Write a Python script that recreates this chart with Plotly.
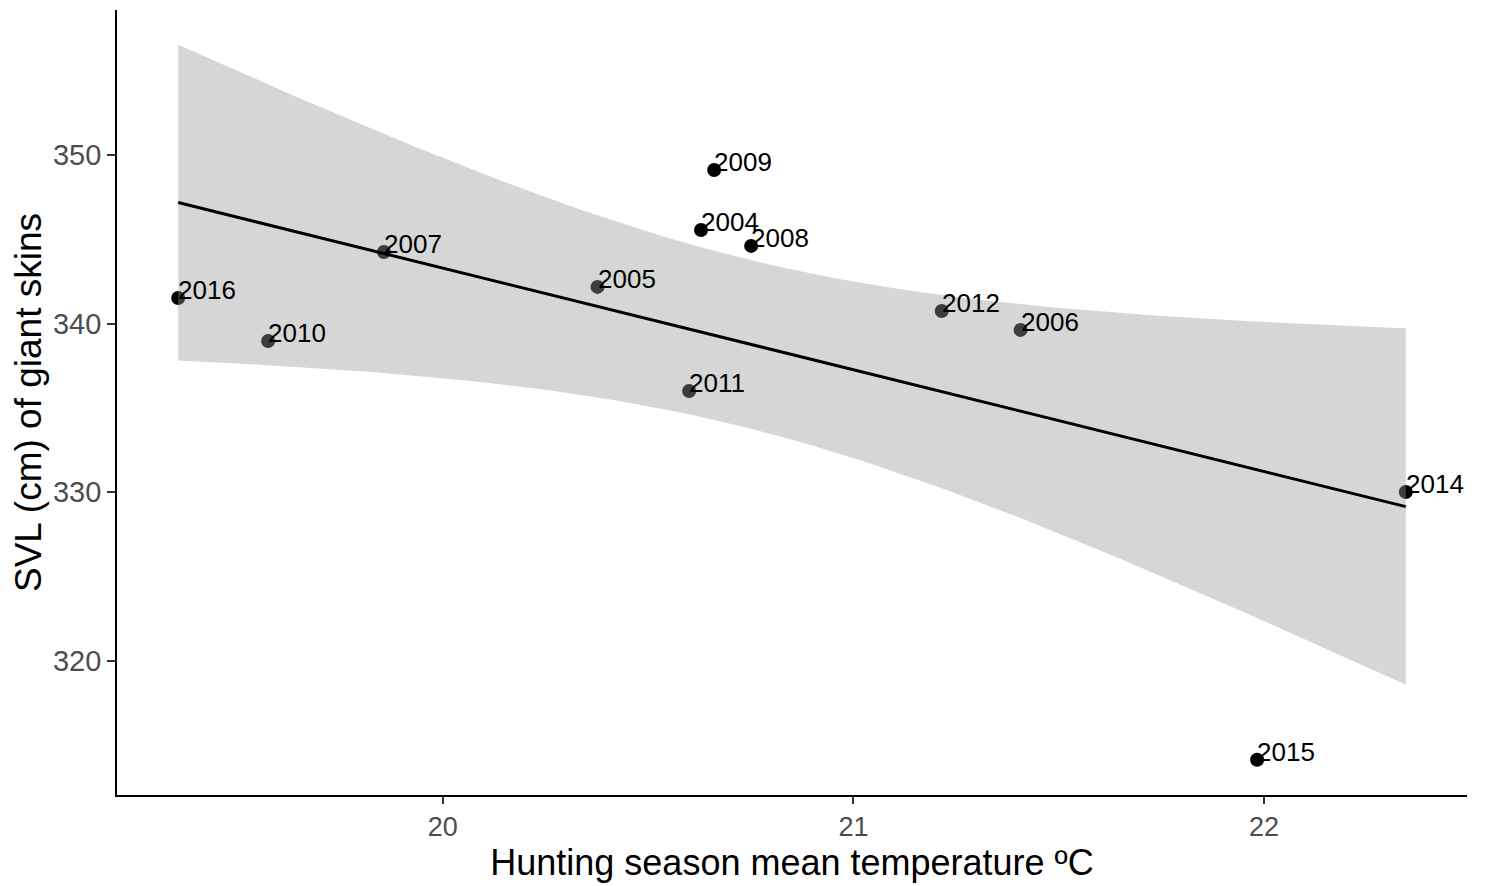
import numpy as np
import plotly.graph_objects as go

years = ["2016", "2010", "2007", "2005", "2011", "2004", "2009", "2008", "2012", "2006", "2015", "2014"]
temp = [19.356, 19.575, 19.857, 20.377, 20.600, 20.629, 20.661, 20.751, 21.215, 21.407, 21.983, 22.345]
svl = [341.52, 338.97, 344.25, 342.18, 336.01, 345.55, 349.11, 344.61, 340.75, 339.63, 314.14, 330.02]
x_ticks = [20, 21, 22]
y_ticks = [320, 330, 340, 350]

# linear model fit with 95% confidence band (as geom_smooth(method="lm"))
x = np.array(temp)
y = np.array(svl)
n = len(x)
b1, b0 = np.polyfit(x, y, 1)
resid = y - (b0 + b1 * x)
s = np.sqrt(np.sum(resid ** 2) / (n - 2))
sxx = np.sum((x - x.mean()) ** 2)
t_crit = 2.228  # t(0.975, df=10)
xs = np.linspace(x.min(), x.max(), 80)
fit = b0 + b1 * xs
se = s * np.sqrt(1 / n + (xs - x.mean()) ** 2 / sxx)
upper = fit + t_crit * se
lower = fit - t_crit * se

FONT = "Liberation Sans, Arial, sans-serif"

fig = go.Figure()
fig.add_trace(go.Scatter(x=temp, y=svl, mode="markers",
                         marker=dict(color="black", size=14, line=dict(width=0)),
                         showlegend=False, hoverinfo="skip"))
fig.add_trace(go.Scatter(x=np.concatenate([xs, xs[::-1]]),
                         y=np.concatenate([upper, lower[::-1]]),
                         fill="toself", fillcolor="rgba(153,153,153,0.4)",
                         line=dict(width=0), mode="lines",
                         showlegend=False, hoverinfo="skip"))
fig.add_trace(go.Scatter(x=xs, y=fit, mode="lines",
                         line=dict(color="black", width=3),
                         showlegend=False, hoverinfo="skip"))

for xi, yi, lab in zip(temp, svl, years):
    fig.add_annotation(x=xi, y=yi, text=lab, showarrow=False,
                       xanchor="left", yanchor="bottom", xshift=-2, yshift=-9,
                       font=dict(family=FONT, size=26, color="black"))

fig.update_layout(
    width=1485, height=886,
    margin=dict(l=117, r=18, t=10, b=91),
    paper_bgcolor="white", plot_bgcolor="white",
    font=dict(family=FONT),
)
fig.update_xaxes(range=[19.207, 22.494], tickvals=x_ticks,
                 showgrid=False, zeroline=False,
                 showline=True, linecolor="black", linewidth=1.8,
                 ticks="outside", ticklen=7, tickcolor="#333333", tickwidth=1.5,
                 ticklabelstandoff=0,
                 tickfont=dict(family=FONT, size=27, color="#4D4D4D"),
                 title=dict(text="Hunting season mean temperature ºC",
                            font=dict(family=FONT, size=36, color="black"), standoff=4))
fig.update_yaxes(range=[312.05, 358.6], tickvals=y_ticks,
                 showgrid=False, zeroline=False,
                 showline=True, linecolor="black", linewidth=1.8,
                 ticks="outside", ticklen=8, tickcolor="#333333", tickwidth=1.5,
                 tickfont=dict(family=FONT, size=29, color="#4D4D4D"),
                 title=dict(text="SVL (cm) of giant skins",
                            font=dict(family=FONT, size=37, color="black"), standoff=0))

fig.write_html("out.html")
